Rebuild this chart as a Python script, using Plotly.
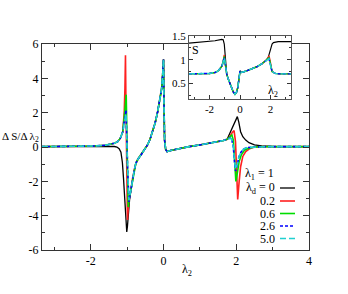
import plotly.graph_objects as go

# ---------------- main panel data: dS/dlambda2 ----------------
LEFT_X = [-3.34, -2.8, -2.3, -1.9, -1.6, -1.45, -1.35, -1.26, -1.19, -1.12]
LEFT_Y = [0.02, 0.03, 0.04, 0.06, 0.1, 0.15, 0.22, 0.31, 0.5, 0.88]

MID_X = [-0.9, -0.85, -0.8, -0.76, -0.7, -0.62, -0.53, -0.44, -0.37, -0.3, -0.23, -0.16,
         -0.1, -0.05, -0.02, 0.0, 0.01, 0.03, 0.06, 0.1, 0.2, 0.4, 0.7, 1.0, 1.3, 1.5, 1.65, 1.75]
MID_Y = [-2.55, -1.83, -1.3, -0.95, -0.7, -0.47, -0.2, 0.12, 0.45, 0.89, 1.4, 2.06,
         2.8, 3.42, 4.3, 5.1, 3.0, 0.4, -0.15, -0.27, -0.2, -0.1, 0.02, 0.12, 0.22, 0.3, 0.38, 0.45]

RIGHT_X = [2.5, 2.8, 3.2, 4.0]
RIGHT_Y = [0.0, 0.02, 0.02, 0.02]

BLACK_LEFT_X = [-3.34, -2.8, -2.3, -1.9, -1.6, -1.45, -1.35, -1.28, -1.22, -1.17, -1.13,
                -1.1, -1.06, -1.03, -1.01, -0.99, -0.96, -0.93]
BLACK_LEFT_Y = [0.02, 0.03, 0.03, 0.04, 0.05, 0.05, 0.03, 0.0, -0.1, -0.3, -0.9,
                -1.8, -3.4, -4.4, -4.95, -4.6, -3.6, -3.0]
BLACK_RIGHT_X = [1.82, 1.89, 1.94, 1.99, 2.03, 2.07, 2.12, 2.18, 2.26, 2.35, 2.5, 2.7, 3.0, 4.0]
BLACK_RIGHT_Y = [0.8, 1.09, 1.38, 1.65, 1.77, 1.45, 0.89, 0.6, 0.4, 0.25, 0.12, 0.06, 0.03, 0.02]

RED_PEAK_X = [-1.08, -1.06, -1.045, -1.03, -1.01, -0.99, -0.96, -0.93]
RED_PEAK_Y = [2.0, 3.4, 5.35, 2.0, -1.5, -4.25, -3.3, -2.8]
RED_DIP_X = [1.82, 1.89, 1.94, 1.98, 2.01, 2.04, 2.08, 2.12, 2.18, 2.26, 2.35]
RED_DIP_Y = [0.6, 0.85, 0.95, 0.3, -1.5, -3.05, -2.0, -1.15, -0.55, -0.27, -0.12]

GREEN_PEAK_X = [-1.08, -1.05, -1.025, -1.0, -0.97, -0.94]
GREEN_PEAK_Y = [1.6, 2.4, 3.05, -0.5, -3.5, -3.0]
GREEN_DIP_X = [1.82, 1.88, 1.92, 1.96, 1.99, 2.03, 2.08, 2.14, 2.22, 2.32]
GREEN_DIP_Y = [0.58, 0.7, 0.4, -1.0, -2.0, -1.5, -0.85, -0.45, -0.2, -0.08]

BLUE_PEAK_X = [-1.08, -1.05, -1.03, -0.99, -0.95]
BLUE_PEAK_Y = [1.35, 1.8, 2.15, -1.0, -3.2]
BLUE_DIP_X = [1.82, 1.87, 1.92, 1.95, 1.98, 2.02, 2.07, 2.13, 2.2, 2.3]
BLUE_DIP_Y = [0.52, 0.5, 0.0, -0.8, -1.4, -1.1, -0.6, -0.3, -0.12, -0.03]

CYAN_PEAK_X = [-1.08, -1.05, -1.03, -0.99, -0.95]
CYAN_PEAK_Y = [1.3, 1.7, 1.95, -1.0, -3.1]
CYAN_DIP_X = [1.82, 1.87, 1.92, 1.95, 1.98, 2.02, 2.07, 2.13, 2.2, 2.3]
CYAN_DIP_Y = [0.5, 0.48, 0.0, -0.75, -1.3, -1.05, -0.6, -0.3, -0.12, -0.03]

# ---------------- inset data: S ----------------
S_LEFT_X = [-3.34, -2.5, -2.0, -1.64, -1.45, -1.31, -1.2, -1.12]
S_LEFT_Y = [0.70, 0.70, 0.71, 0.73, 0.76, 0.81, 0.86, 0.93]
S_PEAK_X = [-1.07, -1.03, -0.98, -0.92]
S_PEAK_Y = {"0.2": [1.01, 1.10, 0.94, 0.80], "0.6": [1.00, 1.07, 0.95, 0.80],
            "2.6": [0.99, 1.05, 0.95, 0.80], "5.0": [0.99, 1.04, 0.95, 0.80]}
S_MID_X = [-0.87, -0.78, -0.66, -0.55, -0.44, -0.33, -0.22, -0.14, -0.07, -0.02, 0.0, 0.05,
           0.11, 0.4, 0.77, 1.1, 1.42, 1.6, 1.75]
S_MID_Y = [0.70, 0.60, 0.49, 0.40, 0.32, 0.27, 0.32, 0.42, 0.56, 0.68, 0.76, 0.74,
           0.73, 0.76, 0.80, 0.85, 0.91, 0.96, 1.0]
S_DIP_X = [1.85, 1.9, 1.97, 2.04, 2.1]
S_DIP_Y = {"0.2": [1.05, 1.08, 0.98, 0.80, 0.75], "0.6": [1.03, 1.04, 0.95, 0.80, 0.75],
           "2.6": [1.01, 1.02, 0.92, 0.79, 0.75], "5.0": [1.01, 1.02, 0.92, 0.79, 0.75]}
S_RIGHT_X = [2.3, 2.6, 3.34]
S_RIGHT_Y = [0.71, 0.70, 0.70]

BS_LEFT_X = [-3.34, -2.95, -2.0, -1.64, -1.2, -1.1, -1.03, -0.98, -0.94, -0.9]
BS_LEFT_Y = [1.35, 1.36, 1.38, 1.40, 1.43, 1.42, 1.33, 1.12, 0.91, 0.80]
BS_RIGHT_X = [1.85, 1.95, 2.03, 2.1, 2.19, 2.5, 3.34]
BS_RIGHT_Y = [1.05, 1.15, 1.26, 1.33, 1.36, 1.38, 1.38]

LAMBDA_D = ["0", "0.2", "0.6", "2.6", "5.0"]
COLORS = ["black", "#ff2020", "#00dd00", "#0000ff", "#20d0d0"]
DASHES = ["solid", "solid", "solid", "3px,2px", "6px,3px"]
WIDTHS = [1.3, 1.6, 1.6, 1.6, 1.6]

main_series = {
    "0": (BLACK_LEFT_X + MID_X + BLACK_RIGHT_X, BLACK_LEFT_Y + MID_Y + BLACK_RIGHT_Y),
    "0.2": (LEFT_X + RED_PEAK_X + MID_X + RED_DIP_X + RIGHT_X,
            LEFT_Y + RED_PEAK_Y + MID_Y + RED_DIP_Y + RIGHT_Y),
    "0.6": (LEFT_X + GREEN_PEAK_X + MID_X + GREEN_DIP_X + RIGHT_X,
            LEFT_Y + GREEN_PEAK_Y + MID_Y + GREEN_DIP_Y + RIGHT_Y),
    "2.6": (LEFT_X + BLUE_PEAK_X + MID_X + BLUE_DIP_X + RIGHT_X,
            LEFT_Y + BLUE_PEAK_Y + MID_Y + BLUE_DIP_Y + RIGHT_Y),
    "5.0": (LEFT_X + CYAN_PEAK_X + MID_X + CYAN_DIP_X + RIGHT_X,
            LEFT_Y + CYAN_PEAK_Y + MID_Y + CYAN_DIP_Y + RIGHT_Y),
}

inset_series = {"0": (BS_LEFT_X + S_MID_X + BS_RIGHT_X, BS_LEFT_Y + S_MID_Y + BS_RIGHT_Y)}
for k in LAMBDA_D[1:]:
    inset_series[k] = (S_LEFT_X + S_PEAK_X + S_MID_X + S_DIP_X + S_RIGHT_X,
                       S_LEFT_Y + S_PEAK_Y[k] + S_MID_Y + S_DIP_Y[k] + S_RIGHT_Y)

fig = go.Figure()
for k, c, d, w in zip(LAMBDA_D, COLORS, DASHES, WIDTHS):
    x, y = main_series[k]
    fig.add_trace(go.Scatter(x=x, y=y, mode="lines", xaxis="x", yaxis="y",
                             line=dict(color=c, dash=d, width=w), showlegend=False))
for k, c, d, w in zip(LAMBDA_D, COLORS, DASHES, WIDTHS):
    x, y = inset_series[k]
    fig.add_trace(go.Scatter(x=x, y=y, mode="lines", xaxis="x2", yaxis="y2",
                             line=dict(color=c, dash=d, width=w * 0.9), showlegend=False))

FONT = "Liberation Serif"
AX = "#333333"

# geometry in window pixels (page body margin removed via post_script)
W, H = 348, 294
PLOT_L, PLOT_R, PLOT_T, PLOT_B = 42, 309, 30, 250
L, T = PLOT_L, PLOT_T
R, B = W - PLOT_R, H - PLOT_B
PW, PH = PLOT_R - PLOT_L, PLOT_B - PLOT_T


def px(xp):
    return (xp - PLOT_L) / PW


def py(yp):
    return (PLOT_B - yp) / PH


fig.update_layout(
    width=W, height=H, margin=dict(l=L, r=R, t=T, b=B, autoexpand=False),
    paper_bgcolor="white", plot_bgcolor="white",
    font=dict(family=FONT, size=12, color="black"),
    xaxis=dict(range=[-3.34, 4.0], domain=[0, 1], anchor="y",
               tickvals=[-2, 0, 2, 4], ticktext=["-2", "0", "2", "4"],
               ticks="inside", ticklen=6, tickcolor=AX, showline=True, linecolor=AX,
               linewidth=1, mirror="ticks", showgrid=False, zeroline=False,
               minor=dict(tickvals=[-3, -1, 1, 3], ticks="inside", ticklen=3, tickcolor=AX),
               tickfont=dict(size=12)),
    yaxis=dict(range=[-6, 6], domain=[0, py(44)], anchor="x",
               tickvals=[-6, -4, -2, 0, 2, 4, 6], ticktext=["-6", "-4", "-2", "0", "2", "4", "6"],
               ticks="inside", ticklen=6, tickcolor=AX, showline=True, linecolor=AX,
               linewidth=1, mirror="ticks", showgrid=False, zeroline=False,
               minor=dict(tickvals=[-5, -3, -1, 1, 3, 5], ticks="inside", ticklen=3, tickcolor=AX),
               tickfont=dict(size=12)),
    xaxis2=dict(range=[-3.34, 3.34], domain=[px(189), px(291)], anchor="y2",
                tickvals=[-2, 0, 2], ticktext=["-2", "0", "2"],
                ticks="inside", ticklen=4, tickcolor=AX, showline=True, linecolor="#555555",
                linewidth=1, mirror="ticks", showgrid=False, zeroline=False,
                minor=dict(tickvals=[-3, -1, 1, 3], ticks="inside", ticklen=2, tickcolor=AX),
                tickfont=dict(size=11)),
    yaxis2=dict(range=[0.17, 1.5], domain=[py(99), py(36)], anchor="x2",
                tickvals=[0.5, 1, 1.5], ticktext=["0.5", "1", "1.5"],
                ticks="inside", ticklen=4, tickcolor=AX, showline=True, linecolor="#555555",
                linewidth=1, mirror="ticks", showgrid=False, zeroline=False,
                minor=dict(tickvals=[0.25, 0.75, 1.25], ticks="inside", ticklen=2, tickcolor=AX),
                tickfont=dict(size=11)),
)

# white background for inset (covers the main frame beneath it)
fig.add_shape(type="rect", xref="x2", yref="y2", x0=-3.34, x1=3.34, y0=0.17, y1=1.5,
              fillcolor="white", line=dict(width=0), layer="below")

ann = [
    dict(text="Δ S/Δ λ<sub>2</sub>", x=px(41), y=py(137), xanchor="right", yanchor="middle",
         font=dict(size=11)),
    dict(text="λ<sub>2</sub>", x=px(187), y=py(270), xanchor="center", yanchor="middle",
         font=dict(size=12)),
    dict(text="S", x=px(195), y=py(50), xanchor="center", yanchor="middle", font=dict(size=12)),
    dict(text="λ<sub>2</sub>", x=px(273), y=py(91), xanchor="center", yanchor="middle",
         font=dict(size=12)),
    dict(text="λ<sub>1</sub> = 1", x=px(243), y=py(174), xanchor="left", yanchor="middle",
         font=dict(size=12)),
]
rows = [188, 201, 213.5, 226, 238.5]
labels = ["λ<sub>d</sub> = 0", "0.2", "0.6", "2.6", "5.0"]
for r, lab, c, d, w in zip(rows, labels, COLORS, DASHES, WIDTHS):
    ann.append(dict(text=lab, x=px(277), y=py(r), xanchor="right", yanchor="middle",
                    font=dict(size=12)))
    fig.add_shape(type="line", xref="paper", yref="paper", x0=px(280), x1=px(295),
                  y0=py(r), y1=py(r), line=dict(color=c, dash=d, width=w))
for a in ann:
    a.update(xref="paper", yref="paper", showarrow=False)
fig.update_layout(annotations=ann)

fig.write_html("out.html", config={"displayModeBar": False},
               post_script="document.body.style.margin='0';document.body.style.overflow='hidden';")
